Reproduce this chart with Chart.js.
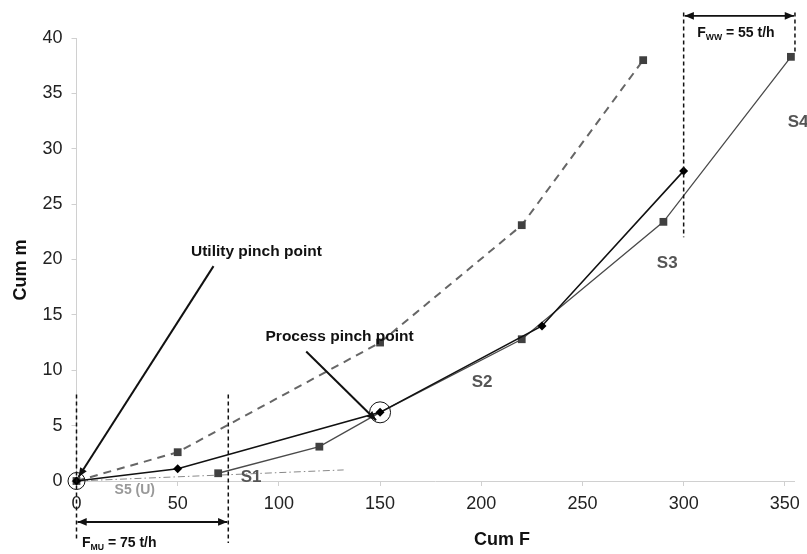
<!DOCTYPE html>
<html>
<head>
<meta charset="UTF-8">
<title>Cum m vs Cum F</title>
<style>
  html, body { margin: 0; padding: 0; background: #fff; }
  #wrap { width: 807px; height: 554px; }
</style>
</head>
<body>
<div id="wrap"><canvas id="chart" width="807" height="554"></canvas></div>

<script src="https://cdn.jsdelivr.net/npm/chart.js"></script>
<script>
// dashed composite (grey squares)
const dashF = [0, 50, 150, 220, 280];
const dashM = [0, 2.6, 12.5, 23.1, 38];

// solid black composite (diamonds)
const mainF = [0, 50, 150, 230, 300];
const mainM = [0, 1.1, 6.2, 14, 28];

// thin grey segments S1..S4 (squares)
const segF = [70, 120, 150, 220, 290, 353];
const segM = [0.7, 3.1, 6.2, 12.8, 23.4, 38.3];

// utility line S5 (U)
const utilF = [0, 132];
const utilM = [0, 1.0];

// flow rates marked on the plot (t/h)
const fmuStart = 0, fmu = 75;
const fwwStart = 300, fww = 55;

// pinch points
const utilityPinch = { x: 0, y: 0 };
const processPinch = { x: 150, y: 6.2 };

const xTicks = [0, 50, 100, 150, 200, 250, 300, 350];
const yTicks = [0, 5, 10, 15, 20, 25, 30, 35, 40];

const pts = (xs, ys) => xs.map((x, i) => ({ x: x, y: ys[i] }));

Chart.defaults.font.family = "'Liberation Sans', Arial, sans-serif";

// segment labels, position in data units
const segLabels = [
  { text: 'S1', x: 86.3, y: -0.1, color: '#555', size: 17, align: 'center' },
  { text: 'S2', x: 200.4, y: 8.5, color: '#555', size: 17, align: 'center' },
  { text: 'S3', x: 291.9, y: 19.2, color: '#555', size: 17, align: 'center' },
  { text: 'S4', x: 351.4, y: 32, color: '#555', size: 17, align: 'left' },
  { text: 'S5 (U)', x: 28.8, y: -1.2, color: '#999', size: 14, align: 'center' },
  { text: 'Utility pinch point', x: 88.9, y: 20.3, color: '#111', size: 15.5, align: 'center' },
  { text: 'Process pinch point', x: 130, y: 12.6, color: '#111', size: 15.5, align: 'center' }
];

function arrowHead(ctx, x1, y1, x2, y2, len) {
  const a = Math.atan2(y2 - y1, x2 - x1);
  ctx.beginPath();
  ctx.moveTo(x2, y2);
  ctx.lineTo(x2 - len * Math.cos(a - 0.4), y2 - len * Math.sin(a - 0.4));
  ctx.lineTo(x2 - len * Math.cos(a + 0.4), y2 - len * Math.sin(a + 0.4));
  ctx.closePath();
  ctx.fill();
}

function arrow(ctx, x1, y1, x2, y2, both, width) {
  ctx.lineWidth = width;
  ctx.beginPath();
  ctx.moveTo(x1, y1);
  ctx.lineTo(x2, y2);
  ctx.stroke();
  arrowHead(ctx, x1, y1, x2, y2, 10);
  if (both) arrowHead(ctx, x2, y2, x1, y1, 10);
}

// "F" + subscript + rest, drawn left-aligned at baseline
function subText(ctx, x, y, main, sub, rest, size) {
  ctx.textAlign = 'left';
  ctx.textBaseline = 'alphabetic';
  ctx.font = 'bold ' + size + 'px "Liberation Sans", Arial, sans-serif';
  ctx.fillText(main, x, y);
  let w = ctx.measureText(main).width;
  ctx.font = 'bold ' + (size * 0.62) + 'px "Liberation Sans", Arial, sans-serif';
  ctx.fillText(sub, x + w, y + 3);
  w += ctx.measureText(sub).width;
  ctx.font = 'bold ' + size + 'px "Liberation Sans", Arial, sans-serif';
  ctx.fillText(rest, x + w, y);
}

const notes = {
  id: 'notes',
  afterDatasetsDraw(chart) {
    const ctx = chart.ctx;
    const xs = chart.scales.x, ys = chart.scales.y;
    const px = v => xs.getPixelForValue(v);
    const py = v => ys.getPixelForValue(v);
    ctx.save();
    ctx.strokeStyle = '#111';
    ctx.fillStyle = '#111';

    // vertical boundary lines
    ctx.setLineDash([4, 3]);
    ctx.lineWidth = 1.5;
    [[fmuStart, 7.8, -5.2], [fmuStart + fmu, 7.8, -5.6],
     [fwwStart, 42.3, 22], [fwwStart + fww, 42.3, 38.7]].forEach(l => {
      ctx.beginPath();
      ctx.moveTo(px(l[0]), py(l[1]));
      ctx.lineTo(px(l[0]), py(l[2]));
      ctx.stroke();
    });
    ctx.setLineDash([]);

    // flow-rate arrows
    arrow(ctx, px(fmuStart) + 1, py(-3.7), px(fmuStart + fmu) - 1, py(-3.7), true, 1.8);
    arrow(ctx, px(fwwStart) + 1, py(42), px(fwwStart + fww) - 1, py(42), true, 1.8);
    subText(ctx, px(2.7), py(-6.0), 'F', 'MU', ' = ' + fmu + ' t/h', 14);
    subText(ctx, px(306.7), py(40.1), 'F', 'WW', ' = ' + fww + ' t/h', 14);

    // pinch circles
    ctx.lineWidth = 1;
    ctx.beginPath();
    ctx.arc(px(utilityPinch.x), py(utilityPinch.y), 8.5, 0, Math.PI * 2);
    ctx.stroke();
    ctx.beginPath();
    ctx.arc(px(processPinch.x), py(processPinch.y), 10.5, 0, Math.PI * 2);
    ctx.stroke();

    // pointer arrows
    arrow(ctx, px(67.7), py(19.4), px(utilityPinch.x) + 2, py(utilityPinch.y) - 4, false, 2);
    arrow(ctx, px(113.5), py(11.7), px(processPinch.x) - 4, py(processPinch.y) + 8, false, 2);

    // text labels
    ctx.textBaseline = 'alphabetic';
    segLabels.forEach(l => {
      ctx.font = 'bold ' + l.size + 'px "Liberation Sans", Arial, sans-serif';
      ctx.fillStyle = l.color;
      ctx.textAlign = l.align;
      ctx.fillText(l.text, px(l.x), py(l.y));
    });

    // axis titles
    ctx.fillStyle = '#111';
    ctx.font = 'bold 18px "Liberation Sans", Arial, sans-serif';
    ctx.textAlign = 'center';
    ctx.textBaseline = 'middle';
    ctx.fillText('Cum F', 502, 540);
    ctx.translate(21, 270);
    ctx.rotate(-Math.PI / 2);
    ctx.fillText('Cum m', 0, 0);
    ctx.restore();
  }
};

new Chart(document.getElementById('chart'), {
  type: 'scatter',
  data: {
    datasets: [
      {
        label: 'Composite',
        data: pts(mainF, mainM),
        showLine: true,
        borderColor: '#111',
        borderWidth: 1.6,
        pointStyle: 'rectRot',
        pointRadius: 4.5,
        backgroundColor: '#000',
        pointBorderWidth: 0,
        clip: false
      },
      {
        label: 'Dashed',
        data: pts(dashF, dashM),
        showLine: true,
        borderColor: '#666',
        borderWidth: 2,
        borderDash: [8, 6],
        pointStyle: 'rect',
        pointRadius: 5.5,
        backgroundColor: '#404040',
        pointBorderWidth: 0,
        clip: false
      },
      {
        label: 'Segments',
        data: pts(segF, segM),
        showLine: true,
        borderColor: '#4a4a4a',
        borderWidth: 1.3,
        pointStyle: 'rect',
        // no square at the process pinch, the diamond sits there
        pointRadius: c => (segF[c.dataIndex] === processPinch.x ? 0 : 5.5),
        backgroundColor: '#404040',
        pointBorderWidth: 0,
        clip: false
      },
      {
        label: 'S5 (U)',
        data: pts(utilF, utilM),
        showLine: true,
        borderColor: '#888',
        borderWidth: 1,
        borderDash: [7, 3, 1.5, 3],
        pointRadius: 0,
        clip: false
      }
    ]
  },
  options: {
    responsive: false,
    animation: false,
    layout: { padding: { top: 38, right: 10, left: 0, bottom: 0 } },
    plugins: { legend: { display: false }, tooltip: { enabled: false } },
    scales: {
      x: {
        type: 'linear',
        min: 0,
        max: 355,
        afterBuildTicks: s => { s.ticks = xTicks.map(v => ({ value: v })); },
        afterFit: s => { s.height = 73; },
        grid: { drawOnChartArea: false, drawTicks: true, tickLength: 5, color: '#d0d0d0' },
        border: { display: true, color: '#d0d0d0' },
        ticks: { color: '#222', font: { size: 18 }, padding: 7, maxRotation: 0 }
      },
      y: {
        type: 'linear',
        min: 0,
        max: 40,
        afterBuildTicks: s => { s.ticks = yTicks.map(v => ({ value: v })); },
        afterFit: s => { s.width = 76.5; },
        grid: { drawOnChartArea: false, drawTicks: true, tickLength: 5, color: '#d0d0d0' },
        border: { display: true, color: '#d0d0d0' },
        ticks: { color: '#222', font: { size: 18 }, padding: 9 }
      }
    }
  },
  plugins: [notes]
});
</script>
</body>
</html>
